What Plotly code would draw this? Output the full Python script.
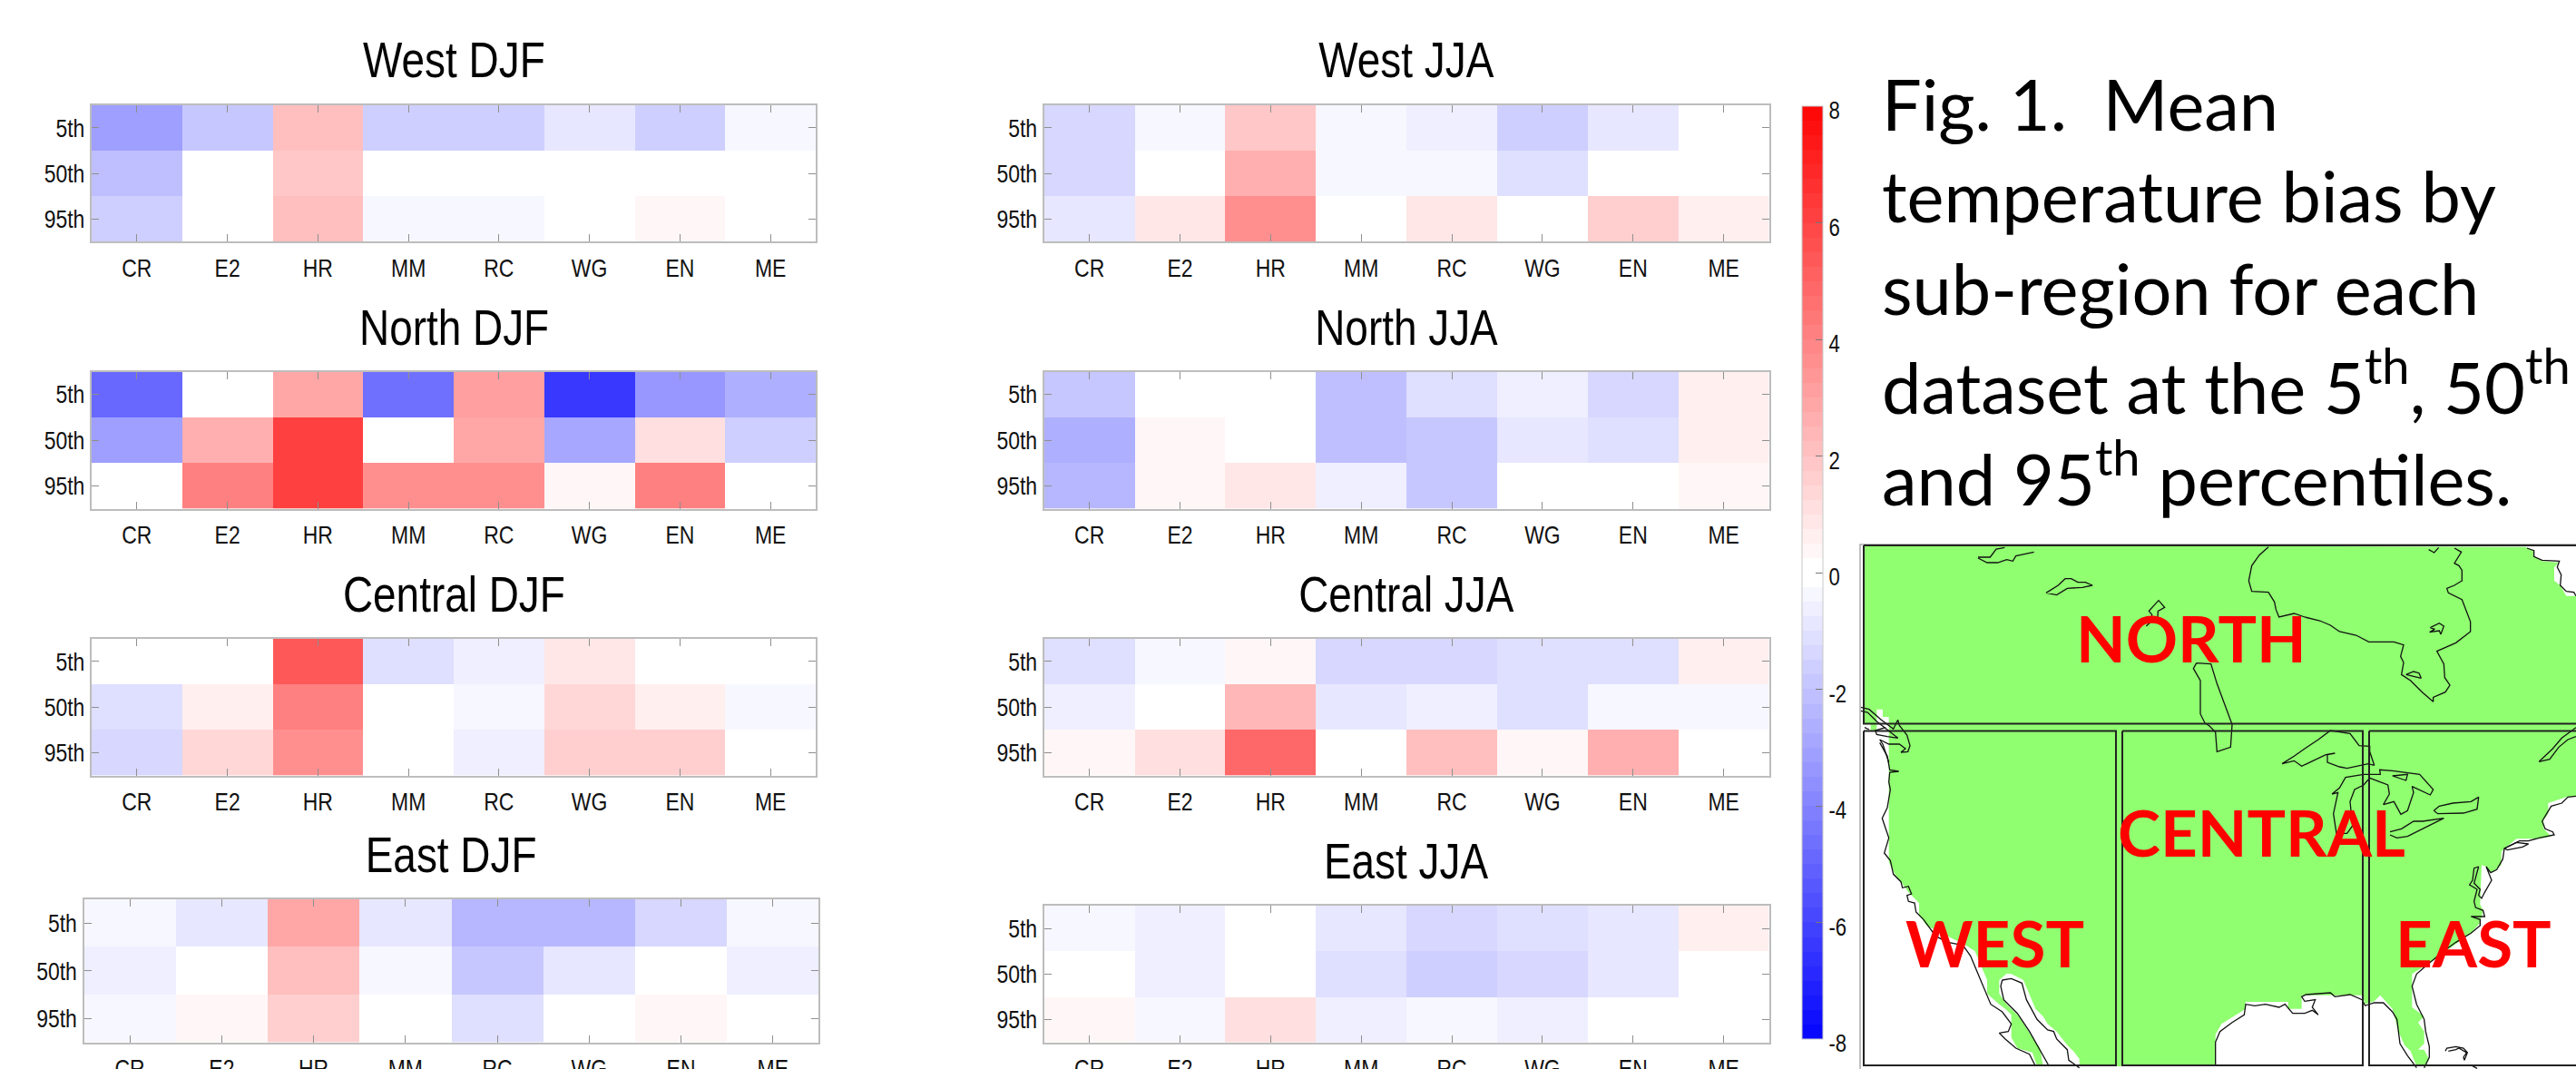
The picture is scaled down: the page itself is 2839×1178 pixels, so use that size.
import plotly.graph_objects as go

W, H = 2839, 1178
DATASETS = ["CR", "E2", "HR", "MM", "RC", "WG", "EN", "ME"]
PERCENTILES = ["5th", "50th", "95th"]
COLORBAR_TICKS = [-8, -6, -4, -2, 0, 2, 4, 6, 8]
COLORBAR_LABELS = ["-8", "-6", "-4", "-2", "0", "2", "4", "6", "8"]

WEST_DJF = [[-3.1, -1.8, 2.2, -1.55, -1.55, -0.8, -1.7, -0.3],
            [-2.1, 0, 1.9, 0, 0, 0, 0, 0],
            [-1.55, 0, 2.2, -0.35, -0.35, 0, 0.3, 0]]
NORTH_DJF = [[-5.0, 0, 2.8, -4.6, 3.1, -6.3, -3.4, -2.7],
             [-3.1, 2.5, 6.2, 0, 2.8, -3.0, 1.1, -1.6],
             [0, 4.0, 6.2, 3.5, 3.5, 0.3, 4.0, 0]]
CENTRAL_DJF = [[0, 0, 5.3, -1.1, -0.55, 0.85, 0, 0],
               [-1.1, 0.55, 4.0, 0, -0.3, 1.4, 0.55, -0.3],
               [-1.35, 1.4, 3.5, 0, -0.55, 1.6, 1.6, 0]]
EAST_DJF = [[-0.3, -0.85, 2.8, -0.85, -2.4, -2.4, -1.35, -0.3],
            [-0.55, 0, 2.2, -0.3, -1.9, -0.85, 0, -0.55],
            [-0.3, 0.3, 1.6, 0, -1.1, 0, 0.3, 0]]
WEST_JJA = [[-1.35, -0.3, 1.9, -0.3, -0.55, -1.6, -0.85, 0],
            [-1.35, 0, 2.7, -0.3, -0.3, -1.1, 0, 0],
            [-0.85, 0.85, 3.5, 0, 0.85, 0, 1.6, 0.55]]
NORTH_JJA = [[-1.9, 0, 0, -2.1, -1.1, -0.55, -1.35, 0.55],
             [-2.7, 0.3, 0, -2.1, -1.9, -0.85, -1.1, 0.55],
             [-2.4, 0.3, 0.85, -0.55, -1.9, 0, 0, 0.3]]
CENTRAL_JJA = [[-1.1, -0.3, 0.3, -1.35, -1.35, -1.1, -1.1, 0.55],
               [-0.55, 0, 2.4, -0.85, -0.55, -1.1, -0.3, -0.3],
               [0.3, 1.1, 4.85, 0, 2.0, 0.3, 2.5, 0]]
EAST_JJA = [[-0.3, -0.55, 0, -0.85, -1.35, -1.1, -0.85, 0.55],
            [0, -0.55, 0, -1.1, -1.6, -1.35, -0.85, 0],
            [0.3, -0.3, 1.1, -0.55, -0.3, -0.55, 0, 0]]

CAPTION_LINES = ["Fig. 1.  Mean", "temperature bias by", "sub-region for each",
                 "dataset at the 5<sup>th</sup>, 50<sup>th</sup>",
                 "and 95<sup>th</sup> percentiles."]
REGION_LABELS = ["NORTH", "CENTRAL", "WEST", "EAST"]

LAND_NE = [(1030, 38), (1055, 50), (1058, 70), (1085, 85), (1140, 90), (1125, 105), (1125, 150), (1145, 165),
           (1165, 200), (1197, 200), (1300, 200), (1300, 860)]
LAND_EAST = [(1197, 265), (1165, 265), (1105, 285), (1105, 320), (1090, 340), (1090, 370), (1115, 395), (1075, 403),
             (1000, 403), (950, 445), (950, 490), (918, 515), (900, 495), (885, 490), (880, 575), (880, 600),
             (860, 560), (840, 560), (840, 520), (860, 495), (885, 490), (880, 620), (890, 640), (880, 680),
             (850, 715), (800, 750), (760, 780), (710, 815), (655, 850), (655, 960), (695, 990), (675, 1010),
             (695, 1040), (695, 1080), (675, 1100), (695, 1100), (710, 1130), (695, 1155), (670, 1155), (650, 1105),
             (630, 1085), (610, 1040), (590, 965), (550, 920), (530, 940), (500, 950), (490, 920), (290, 920),
             (290, 965), (245, 965), (245, 942), (105, 942), (105, 965), (65, 990), (25, 1015), (5, 1050), (5, 1155)]
LAND_WEST = [(755, 1155), (755, 1130), (735, 1105), (715, 1085), (695, 1060), (680, 1040), (650, 1015), (635, 990),
             (610, 965), (590, 920), (570, 870), (530, 850), (515, 848), (490, 870), (490, 915), (515, 950),
             (555, 990), (590, 1045), (625, 1095), (635, 1155), (615, 1155), (600, 1110), (550, 1095), (530, 1060),
             (530, 985), (510, 965), (490, 950), (450, 915), (450, 870), (410, 775), (380, 755), (250, 690),
             (225, 655), (225, 615), (190, 580), (165, 545), (145, 520), (125, 480), (125, 39)]
LAND_CORNER = [(125, 90), (105, 90), (105, 65), (85, 65), (85, 135), (65, 135), (65, 115), (45, 115), (42, -477)]

HUDSON = [(180, 38), (150, 65), (125, 100), (115, 150), (125, 185), (180, 188), (200, 220), (205, 245), (215, 270),
          (265, 258), (300, 270), (350, 282), (385, 297), (415, 318), (470, 330), (512, 352), (595, 352), (627, 362),
          (617, 400), (627, 420), (620, 460), (650, 480), (690, 520), (725, 550), (725, 535), (765, 518), (780, 495),
          (763, 470), (760, 425), (737, 383), (800, 355), (848, 318), (848, 285), (820, 212), (775, 190), (770, 175),
          (795, 165), (820, 150), (820, 115), (810, 100), (795, 92), (818, 55), (795, 42)]
HUDSON_TIP = [(710, 47), (728, 57), (743, 40)]
BELCHER = [(635, 460), (660, 450), (678, 455), (685, 472), (635, 460)]
SOUTHAMPTON = [(715, 305), (745, 290), (760, 300), (750, 327), (745, 315), (713, 320), (730, 310), (715, 305)]
LABRADOR = [(1035, 42), (1058, 50), (1058, 70), (1085, 82), (1142, 85), (1135, 105), (1148, 130), (1145, 165),
            (1165, 185), (1190, 188), (1197, 200)]
BEAR_A = [(0, 72), (40, 72), (60, 45), (88, 40)]
BEAR_B = [(0, 75), (30, 90), (65, 90), (95, 80), (115, 85), (125, 68), (185, 55)]
SLAVE = [(225, 190), (265, 165), (288, 143), (308, 143), (330, 155), (355, 155), (378, 165), (345, 172), (295, 175),
         (260, 197), (225, 190)]
ATHABASCA = [(556, 300), (572, 285), (593, 288), (593, 262), (595, 250), (617, 238), (597, 215), (565, 250),
             (575, 262), (572, 285)]
WINNIPEG = [(722, 422), (770, 425), (790, 490), (815, 555), (840, 625), (835, 700), (790, 715), (785, 650),
            (765, 630), (750, 620), (735, 590), (735, 480), (712, 440), (722, 422)]
SUPERIOR = [(225, 155), (265, 130), (300, 105), (345, 75), (385, 45), (450, 55), (480, 95), (515, 97), (515, 115),
            (530, 160), (510, 155), (440, 170), (415, 165), (375, 150), (375, 125), (400, 120), (370, 125), (290, 163),
            (265, 145), (225, 155)]
MICHIGAN_HURON = [(390, 255), (415, 235), (435, 200), (495, 190), (550, 190), (548, 175), (590, 178), (680, 190),
                  (725, 240), (715, 258), (655, 230), (660, 250), (640, 310), (618, 322), (595, 280), (560, 290),
                  (580, 255), (575, 225), (515, 202), (495, 225), (465, 240), (450, 280), (458, 360), (440, 385),
                  (405, 385), (395, 320), (410, 250), (390, 255)]
NIPIGON = [(590, 195), (640, 190), (635, 210), (590, 195)]
ERIE = [(582, 380), (620, 370), (660, 345), (690, 345), (760, 335), (700, 365), (640, 395), (605, 400), (582, 390)]
ONTARIO = [(727, 310), (745, 295), (790, 285), (850, 280), (875, 265), (870, 305), (825, 318), (740, 320), (727, 310)]
ST_LAWRENCE_A = [(1075, 148), (1120, 105), (1150, 70), (1197, 35)]
ST_LAWRENCE_B = [(1075, 148), (1110, 140), (1140, 100), (1170, 75), (1197, 65)]
ATLANTIC = [(1197, 262), (1170, 265), (1150, 285), (1115, 295), (1100, 320), (1085, 345), (1095, 370), (1120, 380),
            (1125, 390), (1075, 400), (1040, 410), (1010, 410), (960, 435), (955, 470), (935, 505), (915, 515),
            (900, 495), (918, 540), (895, 580), (885, 600), (875, 590), (880, 570), (860, 550), (875, 495), (860, 500),
            (855, 540), (845, 555), (870, 570), (860, 610), (865, 630), (890, 640), (895, 660), (850, 660), (880, 670),
            (880, 690), (850, 715), (800, 745), (765, 770), (710, 815), (670, 850), (655, 890), (670, 950), (695, 1000),
            (700, 1040), (712, 1090), (712, 1125), (695, 1160)]
LONG_ISLAND = [(960, 435), (1000, 415), (1040, 420), (1020, 430), (970, 440), (960, 435)]
GULF = [(5, 1155), (5, 1075), (20, 1040), (60, 1010), (100, 985), (105, 950), (135, 955), (170, 950), (215, 960),
        (235, 950), (260, 980), (300, 980), (325, 970), (345, 985), (325, 960), (335, 935), (300, 940), (290, 925),
        (305, 918), (340, 915), (385, 912), (400, 925), (450, 918), (490, 935), (500, 955), (530, 945), (560, 945),
        (590, 975), (605, 1000), (610, 1040), (615, 1080), (640, 1120), (670, 1160)]
ANDROS = [(765, 1105), (770, 1095), (800, 1090), (825, 1095), (838, 1110), (828, 1135), (825, 1125), (835, 1110),
          (810, 1095), (800, 1100), (775, 1105)]
ISLET = [(848, 1150), (870, 1162)]
PACIFIC = [(95, 85), (120, 130), (128, 175), (158, 180), (128, 183), (125, 215), (130, 240), (120, 300), (103, 335),
           (115, 370), (125, 400), (110, 450), (130, 475), (140, 520), (165, 545), (170, 565), (190, 560), (200, 585),
           (185, 590), (190, 610), (210, 615), (215, 645), (240, 670), (280, 725), (320, 745), (370, 755), (395, 790),
           (420, 850), (440, 900), (462, 950), (500, 975), (530, 1015), (520, 1040), (490, 1045), (510, 1065),
           (545, 1095), (590, 1115), (610, 1155)]
BAJA_INNER = [(500, 870), (495, 890), (505, 935), (550, 980), (590, 1040), (625, 1100), (655, 1155)]
SONORA = [(500, 870), (530, 865), (565, 880), (580, 935), (615, 1000), (650, 1035), (670, 1040), (680, 1065),
          (715, 1100), (720, 1135), (755, 1160)]
STRAIT_A = [(32, 58), (60, 65), (100, 100), (140, 130), (155, 100), (160, 118), (185, 150), (195, 185), (188, 205),
            (165, 207), (180, 195), (160, 180), (125, 180), (95, 165), (105, 180), (125, 240)]
STRAIT_B = [(32, 70), (55, 75), (85, 105), (130, 140), (155, 160), (120, 155), (85, 148), (80, 135), (115, 125)]
STRAIT_DASH = [(45, 125), (60, 132)]

# Region boxes: left, top, right, bottom
NORTH_BOX = [2054, 601, 2850, 797.5]
WEST_BOX = [2054, 805.5, 2332, 1174]
CENTRAL_BOX = [2339, 805.5, 2604, 1174]
EAST_BOX = [2611, 805.5, 2850, 1174]
MAP_FRAME_X = [2050, 2050, 2850]
MAP_FRAME_Y = [1178, 600, 600]

FONT = "Liberation Sans"
CAPTION_FONT = "Lato"


def crop(points, ox, oy):
    """Crop coordinates (3x) to map coordinates."""
    return [ox + p[0] / 3 for p in points], [oy + p[1] / 3 for p in points]


CROP_NE = (2440, 590)
CROP_EAST = (2440, 790)
CROP_WEST = (2040, 790)
CROP_CORNER = (2040, 760)
CROP_NORTH = (2180, 590)

land_x, land_y = [2054], [601]
for pts, origin in [(LAND_NE, CROP_NE), (LAND_EAST, CROP_EAST), (LAND_WEST, CROP_WEST), (LAND_CORNER, CROP_CORNER)]:
    xs, ys = crop(pts, *origin)
    land_x += xs
    land_y += ys

COAST = [(HUDSON, CROP_NE), (HUDSON_TIP, CROP_NE), (BELCHER, CROP_NE), (SOUTHAMPTON, CROP_NE), (LABRADOR, CROP_NE),
         (BEAR_A, CROP_NORTH), (BEAR_B, CROP_NORTH), (SLAVE, CROP_NORTH), (ATHABASCA, CROP_NORTH), (WINNIPEG, CROP_NORTH),
         (SUPERIOR, CROP_EAST), (MICHIGAN_HURON, CROP_EAST), (NIPIGON, CROP_EAST), (ERIE, CROP_EAST), (ONTARIO, CROP_EAST),
         (ST_LAWRENCE_A, CROP_EAST), (ST_LAWRENCE_B, CROP_EAST), (ATLANTIC, CROP_EAST), (LONG_ISLAND, CROP_EAST),
         (GULF, CROP_EAST), (ANDROS, CROP_EAST), (ISLET, CROP_EAST),
         (PACIFIC, CROP_WEST), (BAJA_INNER, CROP_WEST), (SONORA, CROP_WEST),
         (STRAIT_A, CROP_CORNER), (STRAIT_B, CROP_CORNER), (STRAIT_DASH, CROP_CORNER)]


def stepped_scale():
    n = 64
    stops = []
    for i in range(n):
        lo, hi = i / n, (i + 1) / n
        c = -8 + (i + 0.5) * 16 / n
        k = int(abs(c) / 0.25)
        g = round(255 * (1 - k / 32))
        col = f"rgb({g},{g},255)" if c < 0 else f"rgb(255,{g},{g})"
        stops += [[lo, col], [hi, col]]
    return stops


fig = go.Figure()
panels = [
    ("West DJF", WEST_DJF, 101, 899, 115.6, 266.4, 66),
    ("North DJF", NORTH_DJF, 101, 899, 409.5, 560.6, 361),
    ("Central DJF", CENTRAL_DJF, 101, 899, 703.6, 854.6, 654),
    ("East DJF", EAST_DJF, 92.5, 902.4, 990.8, 1148.6, 941),
    ("West JJA", WEST_JJA, 1150.7, 1949.6, 115.6, 266.4, 66),
    ("North JJA", NORTH_JJA, 1150.7, 1949.6, 409.5, 560.6, 361),
    ("Central JJA", CENTRAL_JJA, 1150.7, 1949.6, 703.6, 854.6, 654),
    ("East JJA", EAST_JJA, 1150.7, 1949.6, 998, 1148.6, 948),
]
annotations = []
layout = {}
for i, (title, z, x0, x1, y0, y1, ty) in enumerate(panels, start=1):
    s = "" if i == 1 else str(i)
    fig.add_trace(go.Heatmap(z=z, x=DATASETS, y=PERCENTILES, coloraxis="coloraxis",
                             xaxis=f"x{s}", yaxis=f"y{s}", xgap=0, ygap=0))
    common = dict(ticks="inside", mirror="ticks", showline=True, linecolor="#bdbdbd", linewidth=2,
                  tickcolor="#8f8f8f", tickwidth=1, ticklen=8, showgrid=False, zeroline=False,
                  tickfont=dict(family=FONT, size=28, color="#111"))
    layout[f"xaxis{s}"] = dict(domain=[x0 / W, x1 / W], anchor=f"y{s}", tickmode="array", tickvals=DATASETS,
                               ticktext=DATASETS, ticklabelstandoff=3, **common)
    layout[f"yaxis{s}"] = dict(domain=[1 - y1 / H, 1 - y0 / H], anchor=f"x{s}", autorange="reversed",
                               tickmode="array", tickvals=PERCENTILES, ticktext=PERCENTILES, **common)
    annotations.append(dict(text=title, xref="paper", yref="paper", x=(x0 + x1) / 2 / W, y=1 - ty / H,
                            xanchor="center", yanchor="middle", showarrow=False,
                            font=dict(family=FONT, size=56, color="#000")))

for line, base in zip(CAPTION_LINES, [143.5, 245, 346, 450, 551]):
    annotations.append(dict(text=line, xref="paper", yref="paper", x=2072 / W, y=1 - (base - 29) / H,
                            xanchor="left", yanchor="middle", showarrow=False,
                            font=dict(family=CAPTION_FONT, size=77.5, color="#000")))

# Map panel
fig.add_trace(go.Scatter(x=land_x, y=land_y, mode="lines", fill="toself", fillcolor="#90ff70",
                         line=dict(width=0), xaxis="x9", yaxis="y9", hoverinfo="skip"))
for pts, origin in COAST:
    xs, ys = crop(pts, *origin)
    fig.add_trace(go.Scatter(x=xs, y=ys, mode="lines", line=dict(color="#111", width=1.3),
                             xaxis="x9", yaxis="y9", hoverinfo="skip"))
fig.add_trace(go.Scatter(x=MAP_FRAME_X, y=MAP_FRAME_Y, mode="lines", line=dict(color="#aaaaaa", width=1.5),
                         xaxis="x9", yaxis="y9", hoverinfo="skip"))
for l, t, r, b in [NORTH_BOX, WEST_BOX, CENTRAL_BOX, EAST_BOX]:
    fig.add_trace(go.Scatter(x=[l, r, r, l, l], y=[t, t, b, b, t], mode="lines",
                             line=dict(color="#222", width=2), xaxis="x9", yaxis="y9", hoverinfo="skip"))
layout["xaxis9"] = dict(domain=[2020 / W, 1], anchor="y9", range=[2020, 2839], visible=False)
layout["yaxis9"] = dict(domain=[0, 1 - 580 / H], anchor="x9", range=[1178, 580], visible=False)
for label, cx, cy in zip(REGION_LABELS, [2415, 2492, 2198, 2726], [702, 916, 1038, 1038]):
    annotations.append(dict(text=label, xref="x9", yref="y9", x=cx, y=cy, xanchor="center", yanchor="middle",
                            showarrow=False, font=dict(family=CAPTION_FONT, size=71, color="#ff0000", weight=700)))

fig.update_layout(
    width=W, height=H, margin=dict(l=0, r=0, t=0, b=0, autoexpand=False), paper_bgcolor="white", plot_bgcolor="white",
    showlegend=False, annotations=annotations, font=dict(family=FONT),
    coloraxis=dict(cmin=-8, cmax=8, colorscale=stepped_scale(),
                   colorbar=dict(x=1985.7 / W, xanchor="left", xpad=0, ypad=0, thickness=23, thicknessmode="pixels",
                                 lenmode="fraction", len=(1144.5 - 117) / H, y=1 - 117 / H, yanchor="top",
                                 tickmode="array", tickvals=COLORBAR_TICKS, ticktext=COLORBAR_LABELS,
                                 ticks="inside", ticklen=8,
                                 tickcolor="#777", outlinecolor="#c8c8c8", outlinewidth=1,
                                 tickfont=dict(family=FONT, size=27, color="#111"))),
    **layout)

SQUEEZE = """
document.body.style.margin = '0';
document.querySelectorAll('text').forEach(function (t) {
  if (!(t.style.fontFamily || '').includes('Liberation')) return;
  var b = t.getBBox();
  var a = t.getAttribute('text-anchor') || t.style.textAnchor || 'start';
  var c = a === 'middle' ? b.x + b.width / 2 : (a === 'end' ? b.x + b.width : b.x);
  var dy = t.closest('.colorbar') ? 5 : 0;
  var tr = t.getAttribute('transform') || '';
  t.setAttribute('transform', tr + ' translate(' + c + ',' + dy + ') scale(0.82,1) translate(' + (-c) + ',0)');
});
"""
fig.write_html("out.html", post_script=SQUEEZE, config={"displayModeBar": False})
